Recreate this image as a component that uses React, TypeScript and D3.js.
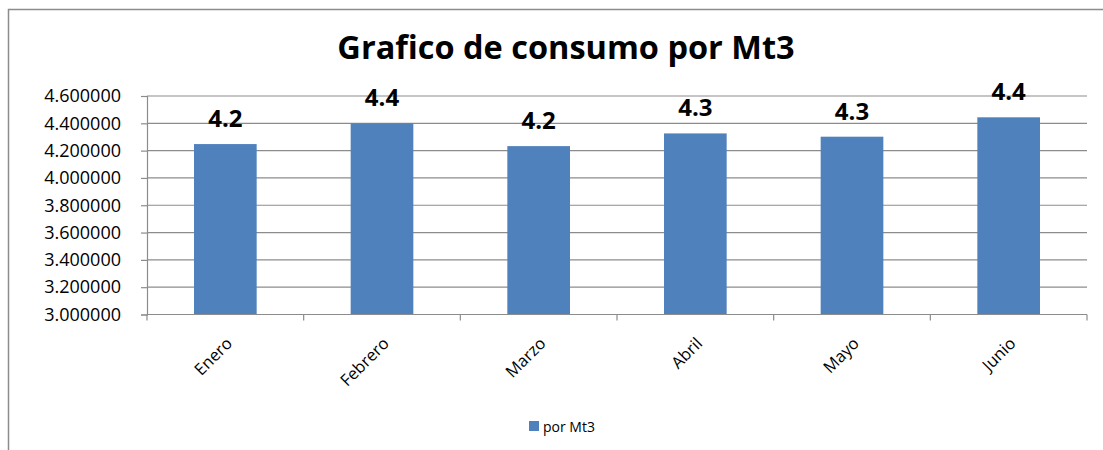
import { useEffect, useRef } from 'react'
import * as d3 from 'd3'

const months = ['Enero', 'Febrero', 'Marzo', 'Abril', 'Mayo', 'Junio']
const values = [4.248, 4.4, 4.233, 4.326, 4.302, 4.444]
const yTicks = [3.0, 3.2, 3.4, 3.6, 3.8, 4.0, 4.2, 4.4, 4.6]
const seriesName = 'por Mt3'
const title = 'Grafico de consumo por Mt3'

const font = "'Open Sans', 'Liberation Sans', sans-serif"

export default function App() {
  const svgRef = useRef<SVGSVGElement | null>(null)

  useEffect(() => {
    if (!svgRef.current) return
    const width = 1103
    const height = 450
    const margin = { top: 96, right: 16, bottom: 135.5, left: 147 }

    const svg = d3.select(svgRef.current)
    svg.selectAll('*').remove()
    svg.attr('viewBox', `0 0 ${width} ${height}`)

    // chart frame
    svg
      .append('rect')
      .attr('x', 8.5)
      .attr('y', 9.5)
      .attr('width', width + 20)
      .attr('height', height + 20)
      .attr('fill', 'white')
      .attr('stroke', '#8c8c8c')
      .attr('stroke-width', 1.5)

    const x = d3
      .scaleBand()
      .domain(months)
      .range([margin.left, width - margin.right])
      .paddingInner(0.6)
      .paddingOuter(0.3)

    const y = d3
      .scaleLinear()
      .domain([3.0, 4.6])
      .range([height - margin.bottom, margin.top])

    const x0 = margin.left
    const x1 = width - margin.right

    // gridlines
    svg
      .append('g')
      .selectAll('line')
      .data(yTicks.slice(1))
      .join('line')
      .attr('x1', x0)
      .attr('x2', x1)
      .attr('y1', (d) => y(d))
      .attr('y2', (d) => y(d))
      .attr('stroke', '#8c8c8c')
      .attr('stroke-width', 1.2)

    // y axis
    const yAxis = svg
      .append('g')
      .attr('transform', `translate(${x0},0)`)
      .call(
        d3
          .axisLeft(y)
          .tickValues(yTicks)
          .tickSize(6)
          .tickPadding(20)
          .tickFormat((d) => (d as number).toFixed(6))
      )
    yAxis.select('.domain').attr('stroke', '#8c8c8c').attr('stroke-width', 1.2)
    yAxis.selectAll('.tick line').attr('stroke', '#8c8c8c').attr('stroke-width', 1.2)
    yAxis
      .selectAll('text')
      .attr('fill', '#000')
      .attr('font-family', font)
      .attr('font-size', 18)

    // bars
    svg
      .append('g')
      .selectAll('rect')
      .data(values)
      .join('rect')
      .attr('x', (_, i) => x(months[i]) as number)
      .attr('y', (d) => y(d))
      .attr('width', x.bandwidth())
      .attr('height', (d) => y(3.0) - y(d))
      .attr('fill', '#4f81bd')

    // x axis
    const step = (x1 - x0) / months.length
    const xAxisG = svg.append('g')
    xAxisG
      .append('line')
      .attr('x1', x0)
      .attr('x2', x1)
      .attr('y1', y(3.0))
      .attr('y2', y(3.0))
      .attr('stroke', '#8c8c8c')
      .attr('stroke-width', 1.2)
    xAxisG
      .selectAll('line.tick')
      .data(d3.range(months.length + 1))
      .join('line')
      .attr('class', 'tick')
      .attr('x1', (i) => x0 + i * step)
      .attr('x2', (i) => x0 + i * step)
      .attr('y1', y(3.0))
      .attr('y2', y(3.0) + 6)
      .attr('stroke', '#8c8c8c')
      .attr('stroke-width', 1.2)

    xAxisG
      .selectAll('text')
      .data(months)
      .join('text')
      .attr(
        'transform',
        (d) => `translate(${(x(d) as number) + x.bandwidth() / 2 + 8},${y(3.0) + 30}) rotate(-45)`
      )
      .attr('text-anchor', 'end')
      .attr('font-family', font)
      .attr('font-size', 16.5)
      .attr('fill', '#000')
      .text((d) => d)

    // data labels
    svg
      .append('g')
      .selectAll('text')
      .data(values)
      .join('text')
      .attr('x', (_, i) => (x(months[i]) as number) + x.bandwidth() / 2)
      .attr('y', (d) => y(d) - 17)
      .attr('text-anchor', 'middle')
      .attr('font-family', font)
      .attr('font-weight', 700)
      .attr('font-size', 24)
      .attr('fill', '#000')
      .text((d) => d.toFixed(1))

    // title
    svg
      .append('text')
      .attr('x', 566)
      .attr('y', 59)
      .attr('text-anchor', 'middle')
      .attr('font-family', font)
      .attr('font-weight', 700)
      .attr('font-size', 32.5)
      .attr('fill', '#000')
      .text(title)

    // legend
    const legend = svg.append('g').attr('transform', 'translate(529,421)')
    legend.append('rect').attr('width', 10).attr('height', 10).attr('fill', '#4f81bd')
    legend
      .append('text')
      .attr('x', 14)
      .attr('y', 10.5)
      .attr('font-family', font)
      .attr('font-size', 14)
      .attr('fill', '#000')
      .text(seriesName)
  }, [])

  return (
    <svg
      ref={svgRef}
      width={1103}
      height={450}
      style={{ position: 'absolute', left: 0, top: 0, display: 'block' }}
    />
  )
}
